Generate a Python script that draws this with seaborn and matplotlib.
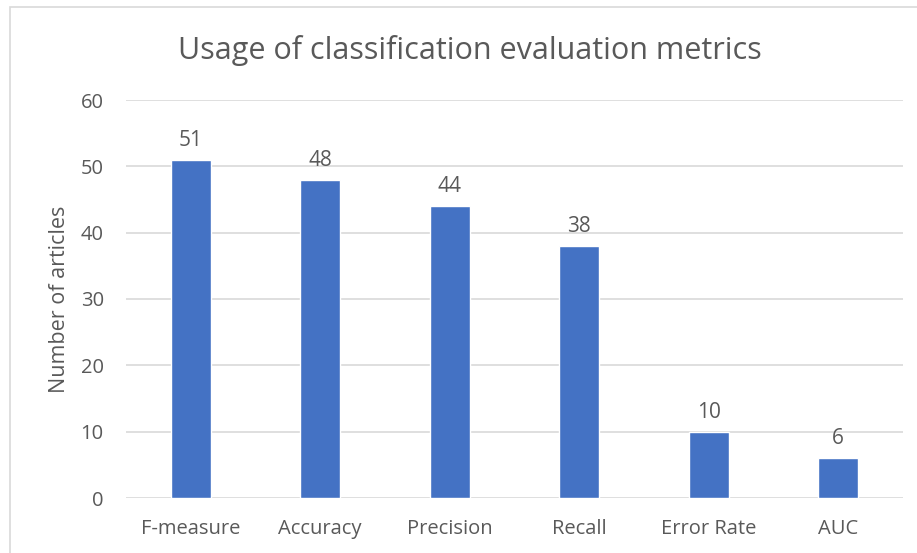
import matplotlib
matplotlib.use("Agg")
import matplotlib.pyplot as plt
import seaborn as sns
import pandas as pd
from matplotlib.patches import Rectangle

categories = ["F-measure", "Accuracy", "Precision", "Recall", "Error Rate", "AUC"]
values = [51, 48, 44, 38, 10, 6]
yticks = [0, 10, 20, 30, 40, 50, 60]

sns.set_theme(style="white")
plt.rcParams['font.family'] = ['Open Sans', 'DejaVu Sans']

text_col = "#595959"
grid_col = "#d9d9d9"
bar_col = "#4472C4"

fig = plt.figure(figsize=(9.17, 5.53), dpi=100)
ax = fig.add_axes([126/917, 1-498/553, (903-126)/917, (498-100)/553])

df = pd.DataFrame({"metric": categories, "count": values})
sns.barplot(data=df, x="metric", y="count", color=bar_col, saturation=1, width=0.31, ax=ax, zorder=3)

ax.set_ylim(0, 60)
ax.set_yticks(yticks)
ax.set_xlim(-0.5, len(categories) - 0.5)
ax.yaxis.grid(True, color=grid_col, linewidth=1.2, zorder=0)
ax.set_axisbelow(True)
for s in ax.spines.values():
    s.set_visible(False)
ax.tick_params(axis='both', length=0, colors=text_col, labelsize=14.5)
ax.tick_params(axis='y', pad=16)
ax.tick_params(axis='x', pad=15)
ax.set_xlabel("")
ax.set_ylabel("Number of articles", fontsize=15.5, color=text_col, labelpad=8)

for i, v in enumerate(values):
    ax.annotate(str(v), (i, v), xytext=(0, 6.5), textcoords="offset points",
                ha="center", va="bottom", fontsize=15, color=text_col)

fig.text(470/917, 1-50/553, "Usage of classification evaluation metrics",
         ha="center", va="center", fontsize=22, color=text_col)

fig.patches.append(Rectangle((10/917, -0.01), 1.0, 1 - 7/553 + 0.01, transform=fig.transFigure,
                             fill=False, edgecolor=grid_col, linewidth=1.2))

fig.savefig("out.png", dpi=100)
